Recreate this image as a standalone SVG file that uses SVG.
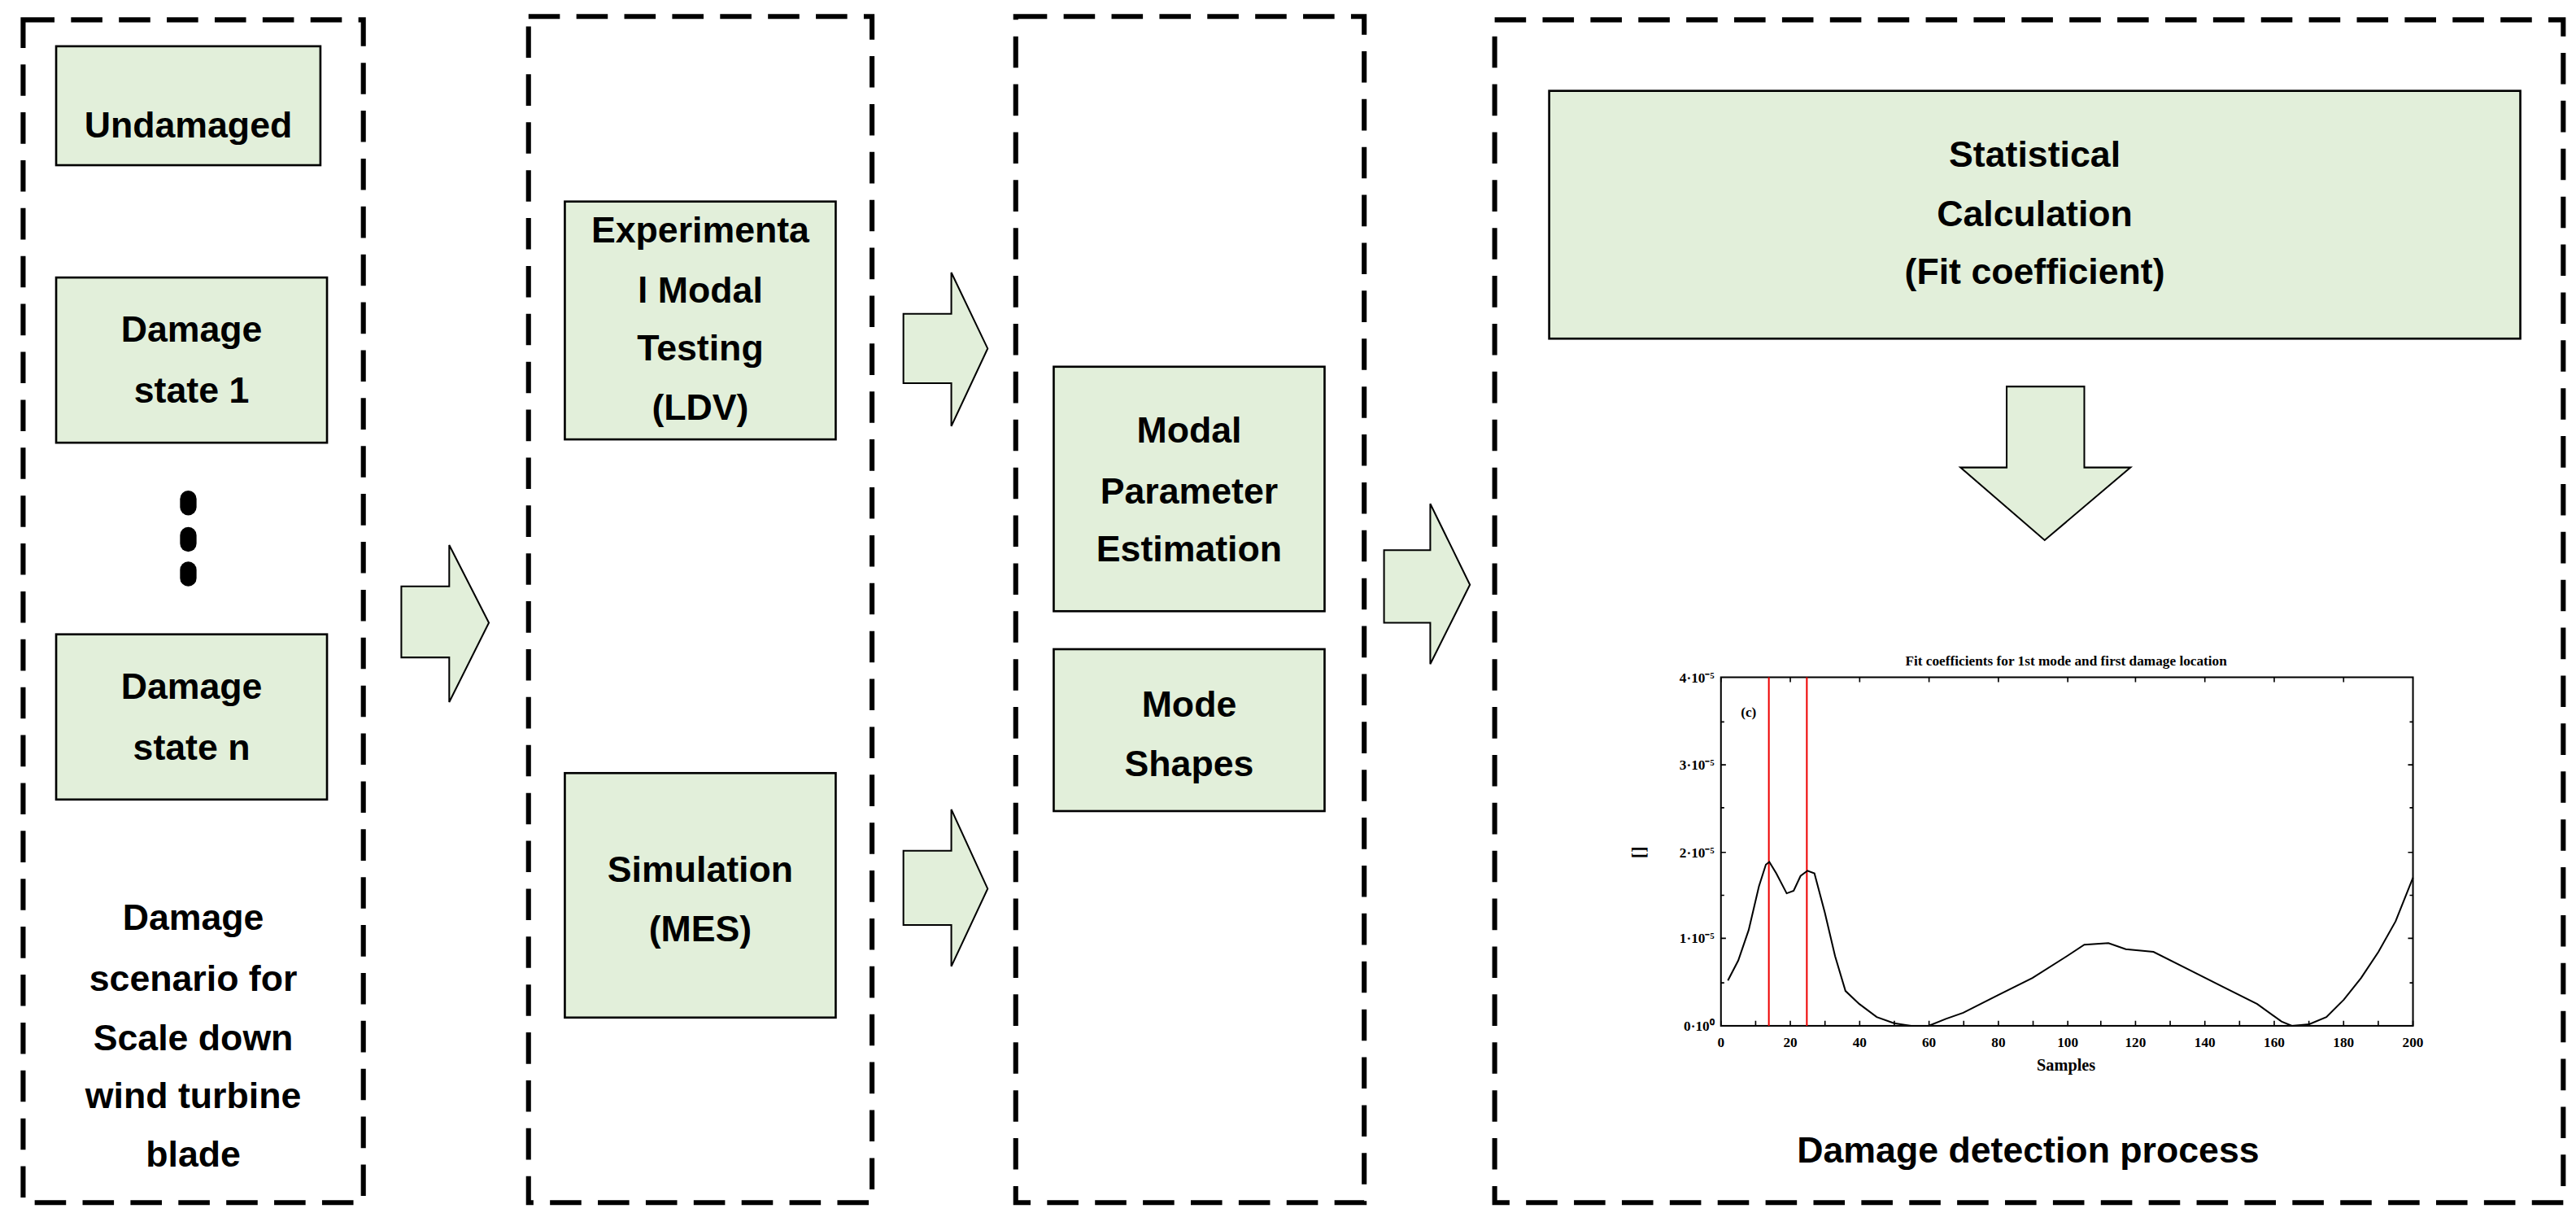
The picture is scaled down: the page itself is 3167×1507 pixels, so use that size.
<svg xmlns="http://www.w3.org/2000/svg" width="3167" height="1507" viewBox="0 0 3167 1507">
<style>
.dash{fill:none;stroke:#000;stroke-width:3;stroke-dasharray:19 10}
.box{fill:#E2EFDA;stroke:#000;stroke-width:1.3}
.arr{fill:#E2EFDA;stroke:#000;stroke-width:1}
.t{font-family:"Liberation Sans",Arial,sans-serif;font-weight:bold;font-size:22px;text-anchor:middle;fill:#000}
.c{font-family:"Liberation Serif","Times New Roman",serif;font-weight:bold;font-size:8.5px;fill:#000}
</style>
<rect width="3167" height="1507" fill="#fff"/>
<g transform="scale(2.0305)">
<g id="stage1">
<rect class="dash" x="14" y="12" width="206" height="716"/>
<text class="t" x="117" y="563">Damage</text>
<text class="t" x="117" y="600">scenario for</text>
<text class="t" x="117" y="636">Scale down</text>
<text class="t" x="117" y="671">wind turbine</text>
<text class="t" x="117" y="706">blade</text>
</g>
<g id="undamaged"><rect class="box" x="34" y="28" width="160" height="72"/><text class="t" x="114" y="83">Undamaged</text></g>
<g id="damage1"><rect class="box" x="34" y="168" width="164" height="100"/><text class="t" x="116" y="207">Damage</text><text class="t" x="116" y="244">state 1</text></g>
<g id="dots"><rect x="109" y="297" width="10" height="15" rx="5"/><rect x="109" y="319" width="10" height="15" rx="5"/><rect x="109" y="340" width="10" height="15" rx="5"/></g>
<g id="damagen"><rect class="box" x="34" y="384" width="164" height="100"/><text class="t" x="116" y="423">Damage</text><text class="t" x="116" y="460">state n</text></g>
<g id="stage2"><rect class="dash" x="320" y="10" width="208" height="718"/></g>
<g id="exp"><rect class="box" x="342" y="122" width="164" height="144"/>
<text class="t" x="424" y="147">Experimenta</text><text class="t" x="424" y="183">l Modal</text><text class="t" x="424" y="218">Testing</text><text class="t" x="424" y="254">(LDV)</text></g>
<g id="sim"><rect class="box" x="342" y="468" width="164" height="148"/><text class="t" x="424" y="534">Simulation</text><text class="t" x="424" y="570">(MES)</text></g>
<g id="stage3"><rect class="dash" x="615" y="10" width="211" height="718"/></g>
<g id="modal"><rect class="box" x="638" y="222" width="164" height="148"/><text class="t" x="720" y="268">Modal</text><text class="t" x="720" y="305">Parameter</text><text class="t" x="720" y="340">Estimation</text></g>
<g id="shapes"><rect class="box" x="638" y="393" width="164" height="98"/><text class="t" x="720" y="434">Mode</text><text class="t" x="720" y="470">Shapes</text></g>
<g id="stage4"><rect class="dash" x="905" y="12" width="647" height="716"/><text class="t" x="1228" y="704">Damage detection process</text></g>
<g id="stat"><rect class="box" x="938" y="55" width="588" height="150"/><text class="t" x="1232" y="101">Statistical</text><text class="t" x="1232" y="137">Calculation</text><text class="t" x="1232" y="172">(Fit coefficient)</text></g>
<g id="connectors">
<polygon class="arr" points="243,355 272,355 272,330 296,377 272,425 272,398 243,398"/>
<polygon class="arr" points="547,190 576,190 576,165 598,211 576,258 576,232 547,232"/>
<polygon class="arr" points="547,515 576,515 576,490 598,538 576,585 576,560 547,560"/>
<polygon class="arr" points="838,333 866,333 866,305 890,354 866,402 866,377 838,377"/>
<polygon class="arr" points="1215,234 1262,234 1262,283 1290,283 1238,327 1187,283 1215,283"/>
</g>
<g id="chart">
<text class="c" x="1251" y="403" text-anchor="middle" font-size="10">Fit coefficients for 1st mode and first damage location</text>
<rect x="1042" y="410" width="419" height="211" fill="none" stroke="#000" stroke-width="1"/>
<g stroke="#000" stroke-width="0.8">
<path d="M1042,621v-3M1063,621v-3M1084,621v-3M1105,621v-3M1126,621v-3M1147,621v-3M1168,621v-3M1189,621v-3M1210,621v-3M1231,621v-3M1252,621v-3M1272,621v-3M1293,621v-3M1314,621v-3M1335,621v-3M1356,621v-3M1377,621v-3M1398,621v-3M1419,621v-3M1440,621v-3M1461,621v-3M1042,410v3M1084,410v3M1126,410v3M1168,410v3M1210,410v3M1252,410v3M1293,410v3M1335,410v3M1377,410v3M1419,410v3"/>
<path d="M1042,568h3M1042,516h3M1042,463h3M1461,568h-3M1461,516h-3M1461,463h-3M1461,437h-2M1461,489h-2M1461,542h-2M1461,595h-2M1042,437h2M1042,489h2M1042,542h2M1042,595h2"/>
</g>
<g class="c" text-anchor="end">
<text x="1038" y="413">4·10⁻⁵</text><text x="1038" y="466">3·10⁻⁵</text><text x="1038" y="519">2·10⁻⁵</text><text x="1038" y="571">1·10⁻⁵</text><text x="1038" y="624">0·10⁰</text>
</g>
<g class="c" text-anchor="middle">
<text x="1042" y="634">0</text><text x="1084" y="634">20</text><text x="1126" y="634">40</text><text x="1168" y="634">60</text><text x="1210" y="634">80</text><text x="1252" y="634">100</text><text x="1293" y="634">120</text><text x="1335" y="634">140</text><text x="1377" y="634">160</text><text x="1419" y="634">180</text><text x="1461" y="634">200</text>
<text x="1251" y="648" font-size="10">Samples</text>
<text x="0" y="0" transform="translate(996,516) rotate(-90)" font-size="11">[]</text>
</g>
<text class="c" x="1054" y="434" fill="#777" font-weight="normal">(c)</text>
<line x1="1071" y1="410" x2="1071" y2="621" stroke="#e00" stroke-width="1"/>
<line x1="1094" y1="410" x2="1094" y2="621" stroke="#e00" stroke-width="1"/>
<polyline fill="none" stroke="#000" stroke-width="1" points="1046.2,593.6 1052.5,581.4 1058.8,563 1065,536.6 1069.2,523.4 1071.3,521.8 1075.5,528.7 1081.8,540.8 1086,539.2 1090.2,530.3 1094.4,527.1 1098.6,528.7 1104.9,552.4 1111.1,578.8 1117.4,599.9 1125.8,607.8 1136.3,615.7 1146.8,619.4 1157.2,621 1167.7,621 1178.2,616.8 1188.7,613.1 1209.6,602.5 1230.6,592 1251.5,578.8 1262,571.9 1276.6,570.9 1287.1,574.6 1303.9,576.2 1324.8,586.7 1345.8,597.3 1366.7,607.8 1381.4,618.4 1387.7,621 1398.2,620 1408.6,615.7 1419.1,605.2 1429.6,592 1440.1,576.2 1450.5,557.7 1461,531.3"/>
</g>
</g>
</svg>
